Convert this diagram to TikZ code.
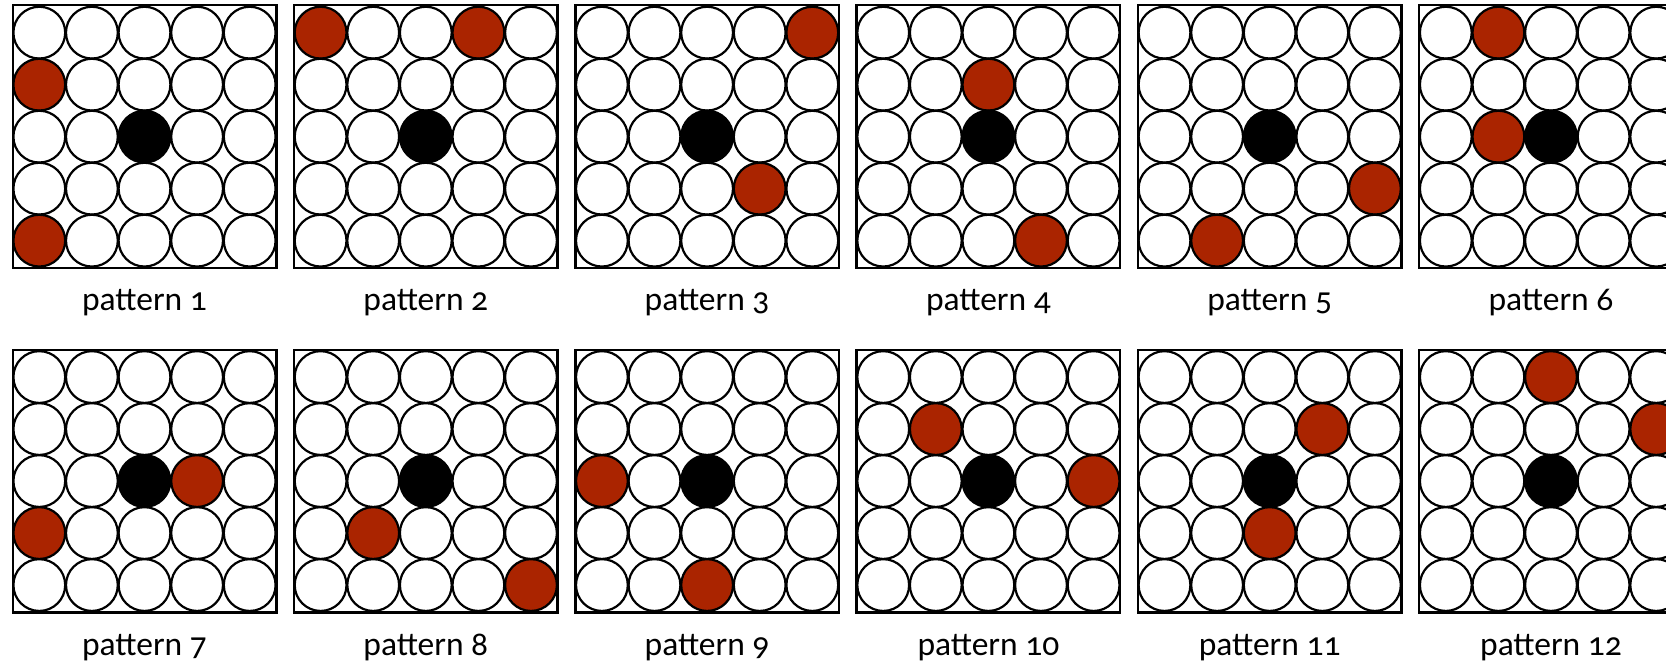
\documentclass[tikz,border=0pt]{standalone}
\usepackage{fontspec}
\newfontfamily\labfont[Numbers=OldStyle]{Carlito}
\definecolor{cellred}{RGB}{170,36,0}
\begin{document}
\begin{tikzpicture}[x=1pt,y=-1pt,
  cell/.style={circle,draw=black,line width=2.2pt,minimum size=51.8pt,inner sep=0pt},
  frame/.style={rectangle,draw=black,line width=2.4pt,minimum width=263.6pt,minimum height=262.7pt,inner sep=0pt},
  lab/.style={anchor=base,font=\labfont\fontsize{33.5}{40}\selectfont,inner sep=0pt}]
\useasboundingbox (0,0) rectangle (1666,666);
\clip (0,0) rectangle (1666,666);
\foreach \n/\ra/\ca/\rb/\cb in {1/1/0/4/0, 2/0/0/0/3, 3/0/4/3/3, 4/1/2/4/3, 5/3/4/4/1, 6/0/1/2/1, 7/2/3/3/0, 8/3/1/4/4, 9/2/0/4/2, 10/1/1/2/4, 11/1/3/3/2, 12/0/2/1/4} {
  \pgfmathtruncatemacro{\col}{mod(\n-1,6)}
  \pgfmathtruncatemacro{\row}{(\n-1)/6}
  \pgfmathsetmacro{\fx}{144.5+281.3*\col}
  \pgfmathsetmacro{\fy}{136.65+344.4*\row}
  \node[frame] (f\n) at (\fx,\fy) {};
  \foreach \r in {0,...,4} {
    \foreach \c in {0,...,4} {
      \def\fc{white}
      \ifnum\r=2 \ifnum\c=2 \def\fc{black}\fi\fi
      \ifnum\r=\ra \ifnum\c=\ca \def\fc{cellred}\fi\fi
      \ifnum\r=\rb \ifnum\c=\cb \def\fc{cellred}\fi\fi
      \node[cell,fill=\fc] (c\n-\r-\c) at ({\fx+(\c-2)*52.6},{\fy+(\r-2)*52}) {};
    }
  }
  \node[lab] (l\n) at (\fx,\fy+173.95) {pattern \n};
}
\end{tikzpicture}
\end{document}
